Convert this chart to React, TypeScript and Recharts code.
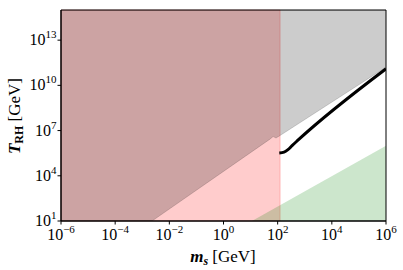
import React from 'react';
import { ComposedChart, Area, Line, XAxis, YAxis, ReferenceArea } from 'recharts';

// ---- data ----
const xTicks = [1e-6, 1e-4, 1e-2, 1, 1e2, 1e4, 1e6];
const yTicks = [1e1, 1e4, 1e7, 1e10, 1e13];
const xDomain = [1e-6, 1e6];
const yDomain = [1e1, 1e15];

// red excluded band: masses below this value, all temperatures
const redMassMax = 123;

// grey region: above this boundary
const greyMass = [1e-6, 2.3e-3, 52, 68, 87, 123, 1e6];
const greyT = [10, 10, 2.7e6, 4.0e6, 3.2e6, 4.7e6, 1.6e11];

// green region: below this boundary
const greenMass = [11.2, 1e6];
const greenT = [10, 1e6];

// black curve
const curveMass = [115, 172, 240, 340, 560, 1e6];
const curveT = [3.3e5, 3.7e5, 5.4e5, 1.0e6, 2.3e6, 1.26e11];

const greyData = greyMass.map((m, i) => ({ m, r: [greyT[i], yDomain[1]] }));
const greenData = greenMass.map((m, i) => ({ m, r: [yDomain[0], greenT[i]] }));
const curveData = curveMass.map((m, i) => ({ m, t: curveT[i] }));

const FONT = '"Liberation Serif", "DejaVu Serif", serif';

const expOf = (v: number) => {
  const e = Math.round(Math.log10(v));
  return e < 0 ? '\u2212' + Math.abs(e) : String(e);
};

const XTick = (props: any) => {
  const { x, y, payload } = props;
  return (
    <text x={x} y={y + 13} textAnchor="middle" fontFamily={FONT} fontSize={16} fill="#000">
      10<tspan dy={-7} fontSize={11}>{expOf(payload.value)}</tspan>
    </text>
  );
};

const YTick = (props: any) => {
  const { x, y, payload } = props;
  return (
    <text x={x + 1} y={y + 5} textAnchor="end" fontFamily={FONT} fontSize={16} fill="#000">
      10<tspan dy={-7} fontSize={11}>{expOf(payload.value)}</tspan>
    </text>
  );
};

export default function App() {
  return (
    <div style={{ position: 'absolute', left: 0, top: 0, width: 403, height: 270, background: '#fff' }}>
      <ComposedChart width={403} height={270} margin={{ top: 10, right: 17, left: 0, bottom: 0 }}>
        <XAxis
          dataKey="m"
          type="number"
          scale="log"
          domain={xDomain}
          allowDataOverflow
          ticks={xTicks}
          interval={0}
          tick={<XTick />}
          tickSize={3.5}
          height={49}
          axisLine={{ stroke: '#000' }}
          tickLine={{ stroke: '#000' }}
        />
        <YAxis
          type="number"
          scale="log"
          domain={yDomain}
          allowDataOverflow
          ticks={yTicks}
          interval={0}
          tick={<YTick />}
          tickSize={3.5}
          width={61}
          axisLine={{ stroke: '#000' }}
          tickLine={{ stroke: '#000' }}
        />
        <ReferenceArea
          x1={xDomain[0]}
          x2={redMassMax}
          y1={yDomain[0]}
          y2={yDomain[1]}
          fill="#ff0000"
          fillOpacity={0.2}
          stroke="#ff0000"
          strokeOpacity={0.2}
          ifOverflow="visible"
        />
        <Area
          data={greyData}
          dataKey="r"
          type="linear"
          fill="#000000"
          fillOpacity={0.2}
          stroke="#000000"
          strokeOpacity={0.15}
          strokeWidth={1}
          isAnimationActive={false}
          dot={false}
          activeDot={false}
        />
        <Area
          data={greenData}
          dataKey="r"
          type="linear"
          fill="#008000"
          fillOpacity={0.2}
          stroke="none"
          isAnimationActive={false}
          dot={false}
          activeDot={false}
        />
        <Line
          data={curveData}
          dataKey="t"
          type="monotone"
          stroke="#000"
          strokeWidth={3}
          dot={false}
          activeDot={false}
          isAnimationActive={false}
        />
        <ReferenceArea
          x1={xDomain[0]}
          x2={xDomain[1]}
          y1={yDomain[0]}
          y2={yDomain[1]}
          fill="none"
          stroke="#000"
          strokeWidth={1}
          ifOverflow="visible"
        />
      </ComposedChart>
      <svg width={403} height={270} style={{ position: 'absolute', left: 0, top: 0, pointerEvents: 'none' }}>
        <text x={223} y={262} textAnchor="middle" fontFamily={FONT} fontSize={17} fill="#000">
          <tspan fontWeight="bold" fontStyle="italic">m</tspan>
          <tspan fontWeight="bold" fontStyle="italic" fontSize={12} dy={3}>s</tspan>
          <tspan dy={-3}>{' [GeV]'}</tspan>
        </text>
        <text transform="translate(20,116) rotate(-90)" textAnchor="middle" fontFamily={FONT} fontSize={17} fill="#000">
          <tspan fontWeight="bold" fontStyle="italic">T</tspan>
          <tspan fontWeight="bold" fontSize={12} dy={3}>RH</tspan>
          <tspan dy={-3}>{' [GeV]'}</tspan>
        </text>
      </svg>
    </div>
  );
}
